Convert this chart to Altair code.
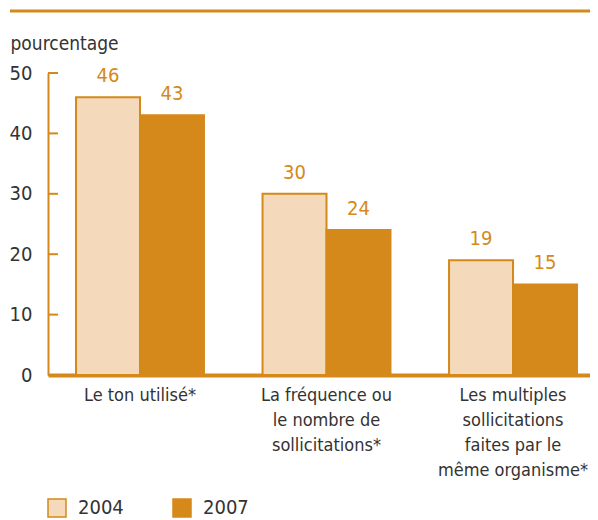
import altair as alt
import pandas as pd

categories = [
    "Le ton utilisé*",
    "La fréquence ou\nle nombre de\nsollicitations*",
    "Les multiples\nsollicitations\nfaites par le\nmême organisme*",
]
years = ["2004", "2007"]
values_2004 = [46, 30, 19]
values_2007 = [43, 24, 15]
y_ticks = [0, 10, 20, 30, 40, 50]

rows = []
for c, a, b in zip(categories, values_2004, values_2007):
    rows.append({"cat": c, "year": "2004", "value": a})
    rows.append({"cat": c, "year": "2007", "value": b})
df = pd.DataFrame(rows)
ticks_df = pd.DataFrame({"t": y_ticks})
one_df = pd.DataFrame({"a": [0]})

ORANGE = "#D4891A"
LIGHT = "#F4DABB"
TEXT = "#333333"
FONT = "DejaVu Sans Condensed"

x_scale = alt.Scale(paddingInner=0.314, paddingOuter=0.11, align=0.683)
x_axis = alt.Axis(
    title=None, labelAngle=0, labelExpr="split(datum.label, '\\n')",
    ticks=False, domainColor=ORANGE, domainWidth=4,
    labelFontSize=18, labelColor=TEXT, labelFont=FONT,
    labelLineHeight=25, labelPadding=11, labelBaseline="top", labelLimit=0,
)
y_scale = alt.Scale(domain=[0, 50])
y_axis = alt.Axis(
    values=y_ticks, ticks=False, domainColor=ORANGE, domainWidth=2,
    labelFontSize=20, labelColor=TEXT, labelFont=FONT, labelPadding=16,
    grid=False, title="pourcentage", titleAngle=0, titleX=-38, titleY=-24,
    titleAlign="left", titleBaseline="alphabetic", titleFont=FONT,
    titleFontSize=19, titleFontWeight="normal", titleColor=TEXT,
)

bars = alt.Chart(df).mark_bar(stroke=ORANGE, strokeWidth=2).encode(
    x=alt.X("cat:N", sort=categories, scale=x_scale, axis=x_axis),
    xOffset=alt.XOffset("year:N", sort=years),
    y=alt.Y("value:Q", scale=y_scale, axis=y_axis),
    fill=alt.Fill(
        "year:N",
        scale=alt.Scale(domain=years, range=[LIGHT, ORANGE]),
        legend=alt.Legend(
            orient="none", legendX=-1, legendY=425, direction="horizontal",
            title=None, symbolType="square", symbolSize=324, padding=0,
            symbolStrokeColor=ORANGE, symbolStrokeWidth=1.5,
            labelFontSize=20, labelFont=FONT, labelColor=TEXT,
            labelOffset=11, columnPadding=46,
        ),
    ),
)

labels = alt.Chart(df).mark_text(
    color=ORANGE, fontSize=20, font=FONT, baseline="bottom", dy=-11
).encode(
    x=alt.X("cat:N", sort=categories, scale=x_scale, axis=x_axis),
    xOffset=alt.XOffset("year:N", sort=years),
    y=alt.Y("value:Q", scale=y_scale, axis=y_axis),
    text="value:Q",
)

tick_rules = alt.Chart(ticks_df).mark_rule(color=ORANGE, strokeWidth=2).encode(
    y=alt.Y("t:Q", scale=y_scale, axis=y_axis), x=alt.value(0), x2=alt.value(10)
)

top_rule = alt.Chart(one_df).mark_rule(color=ORANGE, strokeWidth=3).encode(
    x=alt.value(-38), x2=alt.value(560), y=alt.value(-62)
)

chart = alt.layer(bars, labels, tick_rules, top_rule).properties(
    width=542, height=302,
    padding={"left": 40, "top": 65, "right": 0, "bottom": 145},
    autosize=alt.AutoSizeParams(type="none"),
).configure_view(stroke=None)

chart.save("out.html", embed_options={"renderer": "svg", "actions": False})
